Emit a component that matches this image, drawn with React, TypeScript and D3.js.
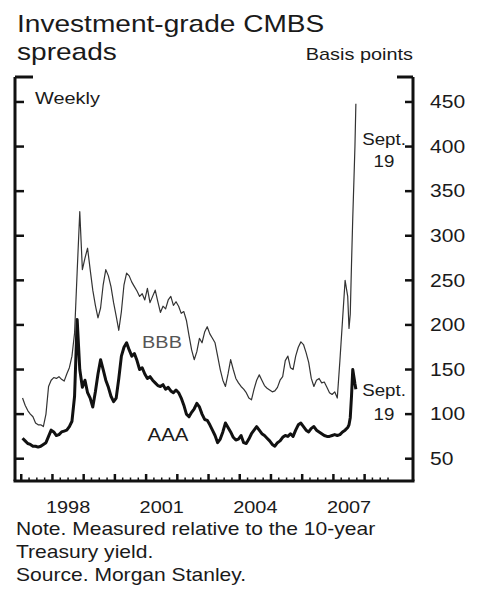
import React from "react";
import * as d3 from "d3";

const width = 480;
const height = 595;

// monthly readings, Jan 1997 - Jun 2007 (basis points)
const startYear = 1997;
const bbbMonthly = [
  118, 110, 104, 100, 97, 90, 88, 88, 86, 100, 131, 138,
  141, 140, 142, 139, 137, 145, 152, 165, 191, 260, 327, 262,
  275, 286, 262, 239, 222, 208, 219, 245, 262, 255, 243, 225,
  210, 194, 215, 245, 258, 255, 248, 243, 238, 232, 235, 228,
  241, 225, 232, 239, 226, 214, 221, 218, 228, 232, 222, 226,
  221, 213, 215, 205, 188, 172, 161, 170, 185, 180, 192, 198,
  190, 185, 180, 165, 150, 138, 131, 145, 161, 150, 140, 135,
  131, 128, 124, 118, 116, 128, 138, 144, 138, 132, 129, 127,
  125, 126, 130, 138, 142, 160, 165, 152, 150, 165, 175, 181,
  178, 169, 158, 140, 131, 138, 140, 135, 136, 130, 124, 122,
  125, 118, 160, 205, 250, 232
];
const aaaMonthly = [
  73, 70, 67, 66, 64, 64, 63, 64, 66, 68, 75, 82,
  80, 76, 77, 80, 81, 82, 86, 92, 120, 206, 150, 130,
  138, 124, 118, 108, 125, 145, 161, 150, 138, 130, 120, 114,
  118, 140, 165, 175, 180, 172, 165, 168, 160, 150, 152, 145,
  140, 142, 138, 135, 132, 131, 133, 128, 130, 126, 124, 127,
  124, 118, 110, 100, 97, 102, 106, 112, 108, 100, 94, 93,
  88, 82, 76, 68, 72, 80, 90, 85, 80, 74, 71, 72,
  76, 68, 67, 72, 78, 82, 86, 82, 78, 76, 73, 70,
  66, 64, 68, 70, 74, 76, 75, 78, 75, 82, 88, 90,
  86, 82, 80, 84, 86, 82, 80, 78, 76, 75, 75, 76,
  77, 76, 77, 80, 82, 85
];
// weekly readings, Jul - Sep 19 2007
const tailDates = [2007.5, 2007.54, 2007.58, 2007.62, 2007.66, 2007.69, 2007.72];
const bbbTail = [196, 212, 268, 320, 365, 400, 448];
const aaaTail = [88, 96, 120, 150, 141, 134, 128];

const yTicks = [50, 100, 150, 200, 250, 300, 350, 400, 450];
const yearLabels = [1998, 2001, 2004, 2007];

const toSeries = (monthly: number[], tail: number[]) =>
  monthly
    .map((v, i) => ({ t: startYear + (i + 0.5) / 12, v }))
    .concat(tail.map((v, i) => ({ t: tailDates[i], v })));

const bbb = toSeries(bbbMonthly, bbbTail);
const aaa = toSeries(aaaMonthly, aaaTail);

const font = "'Liberation Sans', Arial, sans-serif";
const stretch = 1.17; // the source type is set a bit wide

type TProps = {
  x: number;
  y: number;
  size: number;
  anchor?: "start" | "middle" | "end";
  fill?: string;
  children: React.ReactNode;
};

const T = ({ x, y, size, anchor = "start", fill = "#1a1a1a", children }: TProps) => (
  <text
    transform={`translate(${x},${y}) scale(${stretch},1)`}
    fontSize={size}
    textAnchor={anchor}
    fill={fill}
  >
    {children}
  </text>
);

export default function App() {
  const x = d3.scaleLinear().domain([1996.8, 2009.55]).range([15, 413]);
  const y = d3.scaleLinear().domain([25, 478]).range([481, 77]);
  const [x0, x1] = x.range();
  const [yBottom, yTop] = y.range();

  const line = d3
    .line<{ t: number; v: number }>()
    .x(d => x(d.t))
    .y(d => y(d.v));

  const quarters = d3.range(0, 48).map(q => startYear + q / 4);

  return (
    <svg
      width={width}
      height={height}
      style={{ position: "absolute", left: 0, top: 0, background: "#fff" }}
      fontFamily={font}
    >
      <T x={17} y={32} size={24}>Investment-grade CMBS</T>
      <T x={17} y={60} size={24}>spreads</T>
      <T x={413} y={60} size={17} anchor="end">Basis points</T>

      {/* frame */}
      <g stroke="#111" fill="none">
        <line x1={x0} x2={x0} y1={yTop} y2={yBottom} strokeWidth={3} />
        <line x1={x1} x2={x1} y1={yTop} y2={yBottom} strokeWidth={3} />
        <line x1={x0 - 1.5} x2={x1 + 1.5} y1={yBottom} y2={yBottom} strokeWidth={3} />
        <line x1={x0} x2={x0 + 18} y1={yTop} y2={yTop} strokeWidth={3} />
        <line x1={x1 - 16} x2={x1} y1={yTop} y2={yTop} strokeWidth={3} />
        {yTicks.map(t => (
          <g key={t}>
            <line x1={x0} x2={x0 + 9} y1={y(t)} y2={y(t)} strokeWidth={2.5} />
            <line x1={x1 - 8} x2={x1} y1={y(t)} y2={y(t)} strokeWidth={2.5} />
          </g>
        ))}
        {quarters.map((q, i) => (
          <line
            key={q}
            x1={x(q)}
            x2={x(q)}
            y1={yBottom}
            y2={yBottom - (i % 4 === 0 ? 7 : 3.5)}
            strokeWidth={i % 4 === 0 ? 2.5 : 1.5}
          />
        ))}
      </g>

      {yTicks.map(t => (
        <T key={t} x={430} y={y(t) + 6.3} size={18}>{t}</T>
      ))}
      {yearLabels.map(yr => (
        <T key={yr} x={x(yr + 0.5)} y={513} size={17} anchor="middle">{yr}</T>
      ))}

      <path d={line(bbb) || ""} fill="none" stroke="#333" strokeWidth={1.2} strokeLinejoin="round" />
      <path d={line(aaa) || ""} fill="none" stroke="#111" strokeWidth={3} strokeLinejoin="round" />

      <T x={35} y={104} size={17}>Weekly</T>
      <T x={162} y={348} size={17} anchor="middle" fill="#555">BBB</T>
      <T x={168} y={441} size={17.5} anchor="middle">AAA</T>

      <T x={384} y={145} size={16} anchor="middle">Sept.</T>
      <T x={384} y={167} size={16} anchor="middle">19</T>
      <T x={384} y={396} size={16} anchor="middle">Sept.</T>
      <T x={384} y={420} size={16} anchor="middle">19</T>

      <T x={16} y={535} size={18}>Note. Measured relative to the 10-year</T>
      <T x={16} y={558} size={18}>Treasury yield.</T>
      <T x={16} y={581} size={18}>Source. Morgan Stanley.</T>
    </svg>
  );
}
